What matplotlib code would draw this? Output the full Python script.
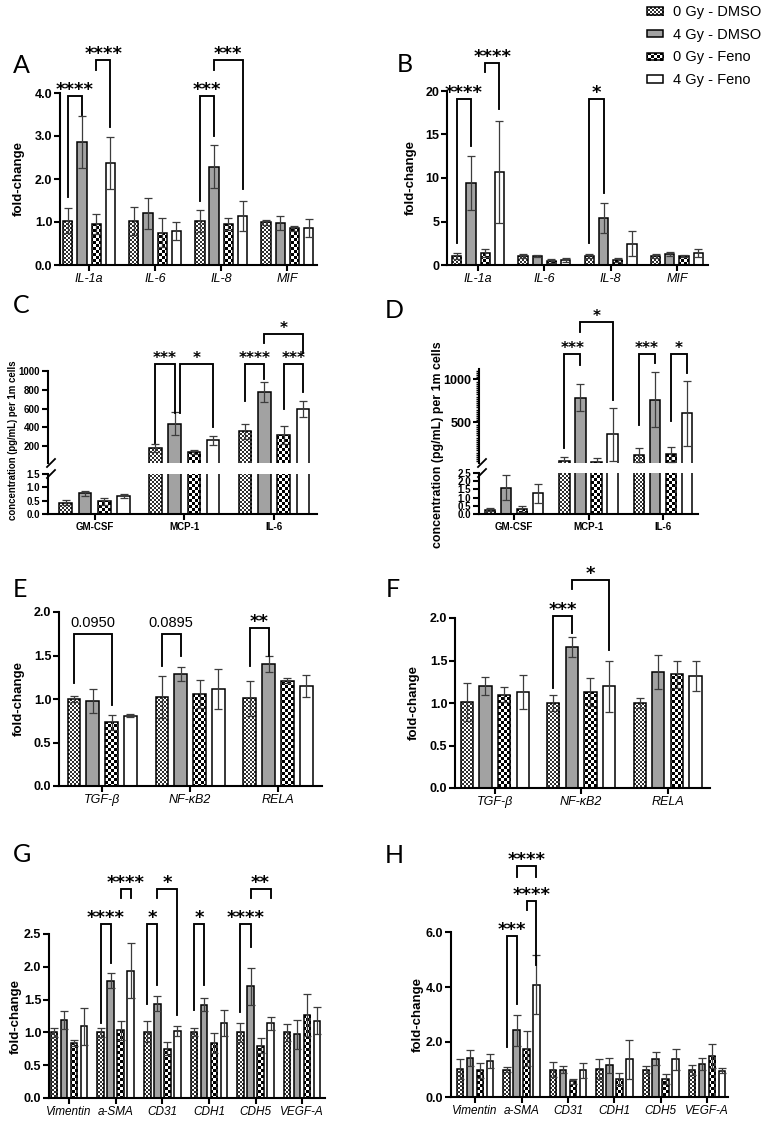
import numpy as np
import matplotlib
matplotlib.use("Agg")
import matplotlib.pyplot as plt
from matplotlib.image import FigureImage
from matplotlib.colors import ListedColormap, Normalize
from matplotlib.patches import Rectangle, Patch
from matplotlib.legend_handler import HandlerBase
from matplotlib.ticker import MultipleLocator
from matplotlib.transforms import Bbox, IdentityTransform

# ---------------------------------------------------------------- data
SERIES = ["0 Gy - DMSO", "4 Gy - DMSO", "0 Gy - Feno", "4 Gy - Feno"]

A_CATS = ["IL-1a", "IL-6", "IL-8", "MIF"]
A_MEAN = [[1.03, 1.03, 1.02, 0.99], [2.86, 1.20, 2.29, 0.97],
          [0.95, 0.75, 0.95, 0.85], [2.37, 0.78, 1.14, 0.86]]
A_SD = [[0.29, 0.33, 0.25, 0.05], [0.60, 0.36, 0.49, 0.16],
        [0.24, 0.34, 0.14, 0.06], [0.60, 0.21, 0.36, 0.20]]

B_CATS = ["IL-1a", "IL-6", "IL-8", "MIF"]
B_MEAN = [[1.03, 1.03, 1.03, 1.03], [9.45, 1.03, 5.39, 1.22],
          [1.34, 0.46, 0.61, 1.03], [10.7, 0.54, 2.45, 1.38]]
B_SD = [[0.30, 0.23, 0.23, 0.19], [3.13, 0.12, 1.68, 0.23],
        [0.46, 0.27, 0.23, 0.16], [5.90, 0.22, 1.45, 0.42]]

C_CATS = ["GM-CSF", "MCP-1", "IL-6"]
C_MEAN = [[0.43, 179, 356], [0.78, 438, 776], [0.47, 136, 314], [0.68, 260, 595]]
C_SD = [[0.10, 46, 82], [0.09, 125, 107], [0.13, 25, 96], [0.08, 43, 85]]

D_CATS = ["GM-CSF", "MCP-1", "IL-6"]
D_MEAN = [[0.26, 52, 123], [1.60, 786, 766], [0.30, 44, 131], [1.26, 361, 607]]
D_SD = [[0.10, 47, 79], [0.76, 158, 317], [0.20, 39, 87], [0.56, 306, 377]]

E_CATS = ["TGF-β", "NF-κB2", "RELA"]
E_MEAN = [[1.00, 1.02, 1.01], [0.98, 1.29, 1.40], [0.73, 1.06, 1.21], [0.81, 1.11, 1.15]]
E_SD = [[0.04, 0.24, 0.20], [0.14, 0.08, 0.09], [0.09, 0.16, 0.03], [0.02, 0.23, 0.13]]

F_CATS = ["TGF-β", "NF-κB2", "RELA"]
F_MEAN = [[1.01, 1.00, 1.00], [1.20, 1.66, 1.36], [1.10, 1.13, 1.34], [1.13, 1.20, 1.32]]
F_SD = [[0.22, 0.09, 0.06], [0.11, 0.12, 0.20], [0.09, 0.16, 0.16], [0.20, 0.30, 0.18]]

G_CATS = ["Vimentin", "a-SMA", "CD31", "CDH1", "CDH5", "VEGF-A"]
G_MEAN = [[1.00, 1.00, 1.01, 1.00, 1.00, 1.00], [1.19, 1.79, 1.44, 1.42, 1.70, 0.97],
          [0.84, 1.03, 0.75, 0.84, 0.80, 1.27], [1.09, 1.94, 1.02, 1.14, 1.14, 1.18]]
G_SD = [[0.07, 0.07, 0.16, 0.06, 0.14, 0.13], [0.14, 0.12, 0.12, 0.10, 0.28, 0.22],
        [0.05, 0.14, 0.10, 0.15, 0.12, 0.32], [0.28, 0.42, 0.07, 0.20, 0.10, 0.21]]

H_CATS = ["Vimentin", "a-SMA", "CD31", "CDH1", "CDH5", "VEGF-A"]
H_MEAN = [[1.03, 0.99, 1.00, 1.03, 0.99, 0.99], [1.42, 2.42, 1.00, 1.15, 1.39, 1.21],
          [0.97, 1.76, 0.57, 0.67, 0.65, 1.50], [1.30, 4.08, 0.97, 1.37, 1.37, 0.95]]
H_SD = [[0.36, 0.09, 0.29, 0.36, 0.13, 0.18], [0.28, 0.57, 0.11, 0.28, 0.24, 0.21],
        [0.28, 0.63, 0.10, 0.22, 0.19, 0.44], [0.26, 1.07, 0.27, 0.72, 0.39, 0.09]]

# significance brackets:
# (group, bar i, bar j, bracket level, left leg end, right leg end, label[, left nudge px])
A_SIG = [(0, 0, 1, 3.93, 1.58, 3.49, "****"), (0, 2, 3, 4.77, 4.53, 3.20, "****"),
         (2, 0, 1, 3.93, 1.49, 3.00, "***"), (2, 1, 3, 4.77, 4.53, 1.77, "***")]
B_SIG = [(0, 0, 1, 19.1, 2.5, 13.7, "****"), (0, 2, 3, 23.2, 22.2, 17.9, "****"),
         (2, 0, 1, 19.1, 2.5, 8.3, "*")]
C_SIG = [(1, 0, 1, 1075, 230, 552, "***"), (1, 1, 3, 1075, 552, 403, "*", 5),
         (2, 0, 1, 1075, 680, 915, "****"), (2, 2, 3, 1075, 595, 776, "***"),
         (2, 1, 3, 1395, 1299, 1192, "*")]
D_SIG = [(1, 0, 1, 1297, 202, 1166, "***"), (1, 1, 3, 1666, 1547, 762, "*"),
         (2, 0, 1, 1297, 476, 1190, "***"), (2, 2, 3, 1297, 512, 1071, "*")]
E_SIG = [(0, 0, 2, 1.75, 1.18, 0.93, "0.0950"), (1, 0, 1, 1.75, 1.38, 1.49, "0.0895"),
         (2, 0, 1, 1.82, 1.38, 1.49, "**")]
F_SIG = [(1, 0, 1, 2.02, 1.18, 1.82, "***"), (1, 1, 3, 2.45, 2.34, 1.62, "*")]
G_SIG = [(1, 0, 1, 2.65, 1.15, 2.06, "****"), (1, 2, 3, 3.19, 3.05, 3.05, "****"),
         (2, 0, 1, 2.65, 1.43, 1.72, "*"), (2, 1, 3, 3.19, 3.05, 1.27, "*"),
         (3, 0, 1, 2.65, 1.34, 1.72, "*"), (4, 0, 1, 2.65, 1.31, 2.30, "****"),
         (4, 1, 3, 3.19, 3.05, 3.05, "**")]
H_SIG = [(1, 0, 1, 5.85, 1.82, 3.38, "***"), (1, 2, 3, 7.13, 6.80, 4.80, "****"),
         (1, 1, 3, 8.40, 8.00, 8.00, "****")]

# ---------------------------------------------------------------- setup
plt.rcParams["font.family"] = ["Liberation Sans", "DejaVu Sans"]
W, H, DPI = 765, 1123, 100
fig = plt.figure(figsize=(W / DPI, H / DPI), dpi=DPI)
fig.patch.set_facecolor("white")

yy, xx = np.indices((H, W))
PAT = {c: (((yy // c) + (xx // c)) % 2).astype(float) for c in (2, 3)}
CMAPS = {2: ListedColormap(["#303030", "white"]), 3: ListedColormap(["black", "white"])}
STYLE = [dict(face="white", cell=2), dict(face="#a2a2a2", cell=None),
         dict(face="white", cell=3), dict(face="white", cell=None)]
SP = 0.215
BW = 0.14
OFFS = (np.arange(4) - 1.5) * SP
YT = 9  # y tick label size


def pattern_image(cell, data, ox=0, oy=0):
    im = FigureImage(fig, cmap=CMAPS[cell], norm=Normalize(0, 1),
                     offsetx=ox, offsety=oy, origin="lower")
    im.set_transform(IdentityTransform())
    im.set_data(data)
    im.set_interpolation("nearest")
    return im


def add_axes_px(x0, x1, top, bottom):
    return fig.add_axes([x0 / W, 1 - bottom / H, (x1 - x0) / W, (bottom - top) / H])


def style_axes(ax, yticks, ylabels, yfs, cats=None, cat_kw=None, show_x=True):
    for s in ("top", "right"):
        ax.spines[s].set_visible(False)
    for s in ("left", "bottom"):
        ax.spines[s].set_linewidth(1.5)
    ax.tick_params(axis="both", width=1.5, length=4, direction="out")
    ax.tick_params(axis="y", pad=1.5)
    ax.set_yticks(yticks, ylabels, fontsize=yfs, fontweight="bold")
    if show_x:
        ax.set_xticks(np.arange(len(cats)), cats, **cat_kw)
        ax.tick_params(axis="x", pad=2)
    else:
        ax.spines["bottom"].set_visible(False)
        ax.tick_params(axis="x", bottom=False, labelbottom=False)


def add_pattern(ax, patches, cell):
    """Pixel-exact checkerboard inside each bar (image limited to the bar's box)."""
    for p in patches:
        ib = Bbox.intersection(p.get_window_extent(), ax.bbox)
        if ib is None or ib.width <= 0 or ib.height <= 0:
            continue
        x0, x1 = int(np.floor(ib.x0)), int(np.ceil(ib.x1))
        y0, y1 = int(np.floor(ib.y0)), int(np.ceil(ib.y1))
        im = pattern_image(cell, PAT[cell][y0:y1, x0:x1], x0, y0)
        im.set_zorder(1.5)
        ax.add_artist(im)
        im.set_clip_box(ib)


def draw_bars(ax, means, sds, xlim, ylim):
    ax.set_xlim(*xlim)
    ax.set_ylim(*ylim)
    base = np.arange(len(means[0]))
    for k in range(4):
        x = base + OFFS[k]
        st = STYLE[k]
        fill = ax.bar(x, means[k], BW, color=st["face"], edgecolor="none", zorder=1)
        if st["cell"]:
            add_pattern(ax, fill.patches, st["cell"])
        ax.bar(x, means[k], BW, fill=False, edgecolor="black", linewidth=1.1, zorder=2.5)
        ax.errorbar(x, means[k], yerr=sds[k], fmt="none", ecolor="#3c3c3c",
                    elinewidth=0.9, capsize=3.2, capthick=0.9, zorder=3)
    ax.set_xlim(*xlim)
    ax.set_ylim(*ylim)


def draw_sig(ax, sigs, star_fs=13):
    xl = ax.get_xlim()
    px = (xl[1] - xl[0]) / (ax.get_position().width * W)  # data units per pixel
    for s in sigs:
        g, i, j, y, yl, yr, txt = s[:7]
        nudge = s[7] if len(s) > 7 else 0
        xi, xj = g + OFFS[i] + nudge * px, g + OFFS[j]
        ax.plot([xi, xi, xj, xj], [yl, y, y, yr], color="black", lw=1.35,
                clip_on=False, zorder=4, solid_joinstyle="miter")
        if txt.startswith("*"):
            ax.annotate(txt, ((xi + xj) / 2, y), xytext=(0, 0.8), textcoords="offset points",
                        ha="center", va="baseline", fontsize=star_fs, fontweight="bold",
                        fontfamily="DejaVu Sans", annotation_clip=False)
        else:
            ax.annotate(txt, ((xi + xj) / 2, y), xytext=(0, 5), textcoords="offset points",
                        ha="center", va="baseline", fontsize=10.5, annotation_clip=False)


def ylabel_px(text, xc, yc, fs):
    fig.text(xc / W, 1 - yc / H, text, rotation=90, ha="center", va="center",
             fontsize=fs, fontweight="bold")


def letter(text, x, ybase):
    fig.text(x / W, 1 - ybase / H, text, fontsize=18, fontfamily="Lato",
             ha="left", va="baseline")


def break_mark(ax, at_top):
    bb = ax.get_position()
    wpx, hpx = bb.width * W, bb.height * H
    y0 = 1.0 if at_top else 0.0
    ax.plot([-1 / wpx, 7 / wpx], [y0 - 4 / hpx, y0 + 4 / hpx], transform=ax.transAxes,
            color="black", lw=1.3, clip_on=False, zorder=5)


italic9 = dict(fontsize=9, fontstyle="italic")
italic85 = dict(fontsize=8.5, fontstyle="italic")
bold7 = dict(fontsize=7, fontweight="bold")

# ---------------------------------------------------------------- A
ax = add_axes_px(60, 317, 93, 265)
draw_bars(ax, A_MEAN, A_SD, (-0.44, 3.45), (0, 4))
style_axes(ax, [0, 1, 2, 3, 4], ["0.0", "1.0", "2.0", "3.0", "4.0"], YT, A_CATS, italic9)
draw_sig(ax, A_SIG)
ylabel_px("fold-change", 19, 179, 9.5)
letter("A", 13, 73)

# ---------------------------------------------------------------- B
ax = add_axes_px(447, 708, 91, 265)
draw_bars(ax, B_MEAN, B_SD, (-0.47, 3.47), (0, 20))
style_axes(ax, [0, 5, 10, 15, 20], ["0", "5", "10", "15", "20"], YT, B_CATS, italic9)
draw_sig(ax, B_SIG)
ylabel_px("fold-change", 411, 178, 9.5)
letter("B", 397, 72)

# ---------------------------------------------------------------- C
axu = add_axes_px(48, 317, 371, 463)
axl = add_axes_px(48, 317, 474, 514)
draw_bars(axu, C_MEAN, C_SD, (-0.52, 2.48), (20, 1000))
draw_bars(axl, C_MEAN, C_SD, (-0.52, 2.48), (0, 1.5))
style_axes(axu, [200, 400, 600, 800, 1000], ["200", "400", "600", "800", "1000"], 7, show_x=False)
style_axes(axl, [0, 0.5, 1.0, 1.5], ["0.0", "0.5", "1.0", "1.5"], 7, C_CATS, bold7)
draw_sig(axu, C_SIG, star_fs=11)
break_mark(axu, False)
break_mark(axl, True)
ylabel_px("concentration (pg/mL) per 1m cells", 13.5, 440, 6.9)
letter("C", 13, 313)

# ---------------------------------------------------------------- D
axu = add_axes_px(479, 698, 369, 463)
axl = add_axes_px(479, 698, 473, 514)
draw_bars(axu, D_MEAN, D_SD, (-0.47, 2.47), (30, 1120))
draw_bars(axl, D_MEAN, D_SD, (-0.47, 2.47), (0, 2.5))
style_axes(axu, [500, 1000], ["500", "1000"], 9, show_x=False)
axu.yaxis.set_minor_locator(MultipleLocator(25))
axu.tick_params(axis="y", which="minor", length=2.5, width=1)
style_axes(axl, [0, 0.5, 1.0, 1.5, 2.0, 2.5], ["0.0", "0.5", "1.0", "1.5", "2.0", "2.5"], 7,
           D_CATS, bold7)
draw_sig(axu, D_SIG, star_fs=11)
break_mark(axu, False)
break_mark(axl, True)
ylabel_px("concentration (pg/mL) per 1m cells", 438, 445, 8.9)
letter("D", 385, 318)

# ---------------------------------------------------------------- E
ax = add_axes_px(59, 322, 612, 786)
draw_bars(ax, E_MEAN, E_SD, (-0.49, 2.5), (0, 2))
style_axes(ax, [0, 0.5, 1, 1.5, 2], ["0.0", "0.5", "1.0", "1.5", "2.0"], YT, E_CATS, italic9)
draw_sig(ax, E_SIG)
ylabel_px("fold-change", 19, 699, 9.5)
letter("E", 13, 597)

# ---------------------------------------------------------------- F
ax = add_axes_px(455, 710, 618, 788)
draw_bars(ax, F_MEAN, F_SD, (-0.46, 2.49), (0, 2))
style_axes(ax, [0, 0.5, 1, 1.5, 2], ["0.0", "0.5", "1.0", "1.5", "2.0"], YT, F_CATS, italic9)
draw_sig(ax, F_SIG)
ylabel_px("fold-change", 414, 703, 9.5)
letter("F", 386, 597)

# ---------------------------------------------------------------- G
ax = add_axes_px(49, 325, 934, 1098)
draw_bars(ax, G_MEAN, G_SD, (-0.43, 5.49), (0, 2.5))
style_axes(ax, [0, 0.5, 1, 1.5, 2, 2.5], ["0.0", "0.5", "1.0", "1.5", "2.0", "2.5"], YT,
           G_CATS, italic85)
draw_sig(ax, G_SIG)
ylabel_px("fold-change", 15.5, 1016, 9.5)
letter("G", 13, 862)

# ---------------------------------------------------------------- H
ax = add_axes_px(451, 728, 932, 1097)
draw_bars(ax, H_MEAN, H_SD, (-0.52, 5.45), (0, 6))
style_axes(ax, [0, 2, 4, 6], ["0.0", "2.0", "4.0", "6.0"], YT, H_CATS, italic85)
draw_sig(ax, H_SIG)
ylabel_px("fold-change", 417.5, 1015, 9.5)
letter("H", 385, 863)


# ---------------------------------------------------------------- legend
class PatternHandler(HandlerBase):
    def __init__(self, face, cell):
        super().__init__()
        self.face, self.cell = face, cell

    def create_artists(self, legend, orig_handle, xdescent, ydescent, width, height,
                       fontsize, trans):
        base = Rectangle((-xdescent, -ydescent), width, height, facecolor=self.face,
                         edgecolor="none", transform=trans)
        arts = [base]
        if self.cell:
            im = pattern_image(self.cell, PAT[self.cell])
            im.set_clip_path(base)
            arts.append(im)
        edge = Rectangle((-xdescent, -ydescent), width, height, fill=False,
                         edgecolor="black", lw=1.1, transform=trans)
        arts.append(edge)
        return arts


handles = [Patch(facecolor=st["face"]) for st in STYLE]
hmap = {h: PatternHandler(st["face"], st["cell"]) for h, st in zip(handles, STYLE)}
fig.legend(handles, SERIES, handler_map=hmap, loc="upper left",
           bbox_to_anchor=(647 / W, 1 - 5 / H), frameon=False, fontsize=10.5,
           handlelength=1.1, handleheight=0.42, handletextpad=0.68, labelspacing=0.6,
           borderpad=0, borderaxespad=0)

fig.savefig("out.png", dpi=DPI, facecolor="white")
